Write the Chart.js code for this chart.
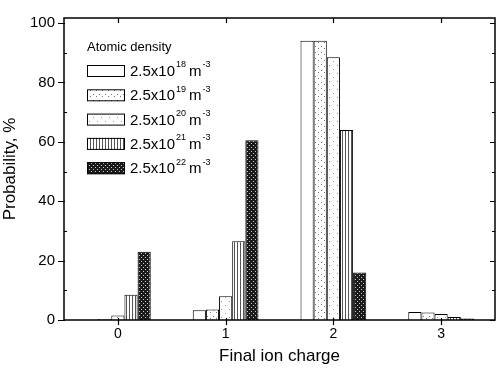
<!DOCTYPE html>
<html>
<head>
<meta charset="utf-8">
<script src="https://cdn.jsdelivr.net/npm/chart.js@4/dist/chart.umd.min.js"></script>
<style>
    html, body { margin: 0; padding: 0; background: #fff; }
    #wrap { width: 496px; height: 371px; }
</style>
</head>
<body>
<div id="wrap"><canvas id="chart" width="496" height="371"></canvas></div>
<script>
// Final ion charge distribution for five atomic densities
const charges = ['0', '1', '2', '3'];
const densityExponents = ['18', '19', '20', '21', '22'];
const dens18 = [0, 3.3, 94, 2.7];
const dens19 = [0.3, 3.5, 94, 2.5];
const dens20 = [1.5, 8, 88.5, 2];
const dens21 = [8.5, 26.5, 64, 1];
const dens22 = [23, 60.5, 16, 0.5];
const yTicks = [0, 20, 40, 60, 80, 100];

const FONT = '"Liberation Sans", Arial, sans-serif';

// fill patterns, one per density
function makePattern(draw, size) {
    const c = document.createElement('canvas');
    c.width = size; c.height = size;
    const g = c.getContext('2d');
    g.fillStyle = '#fff';
    g.fillRect(0, 0, size, size);
    draw(g);
    return g.createPattern(c, 'repeat');
}
const ctx = document.getElementById('chart').getContext('2d');
const fills = [
    '#ffffff',
    makePattern(g => { g.fillStyle = '#777'; g.fillRect(0, 0, 1, 1); g.fillRect(3, 4, 1, 1); }, 6),
    makePattern(g => { g.fillStyle = '#999'; g.fillRect(1, 1, 1, 1); g.fillRect(5, 5, 1, 1); }, 8),
    makePattern(g => { g.fillStyle = '#555'; g.fillRect(0, 0, 1, 4); }, 3),
    makePattern(g => {
        g.fillStyle = '#1a1a1a'; g.fillRect(0, 0, 4, 4);
        g.fillStyle = '#ccc'; g.fillRect(1, 1, 1, 1); g.fillRect(3, 3, 1, 1);
    }, 4)
];
const series = [dens18, dens19, dens20, dens21, dens22];

// frame with ticks: outward on left/bottom, inward on top/right
const frameTicks = {
    id: 'frameTicks',
    afterDatasetsDraw(chart) {
        const { ctx, chartArea: a, scales } = chart;
        ctx.save();
        ctx.strokeStyle = '#000';
        ctx.lineWidth = 1.5;
        ctx.strokeRect(a.left, a.top, a.right - a.left, a.bottom - a.top);
        ctx.lineWidth = 1.2;
        ctx.beginPath();
        yTicks.forEach(v => {
            const y = Math.round(scales.y.getPixelForValue(v)) + 0.5;
            ctx.moveTo(a.left - 6, y); ctx.lineTo(a.left + 1, y);
            ctx.moveTo(a.right, y); ctx.lineTo(a.right - 5, y);
        });
        for (let v = 10; v < 100; v += 20) {
            const y = Math.round(scales.y.getPixelForValue(v)) + 0.5;
            ctx.moveTo(a.left, y); ctx.lineTo(a.left + 3, y);
            ctx.moveTo(a.right, y); ctx.lineTo(a.right - 3, y);
        }
        charges.forEach((c, i) => {
            const x = Math.round(scales.x.getPixelForValue(i)) + 0.5;
            ctx.moveTo(x, a.bottom + 5); ctx.lineTo(x, a.bottom - 2);
            ctx.moveTo(x, a.top); ctx.lineTo(x, a.top + 5);
        });
        ctx.stroke();
        ctx.restore();
    }
};

// text with raised exponents: "2.5x10^e m^-3"
function drawDensity(ctx, exp, x, y) {
    const big = '15px ' + FONT, small = '9px ' + FONT;
    ctx.font = big;
    ctx.fillText('2.5x10', x, y);
    x += ctx.measureText('2.5x10').width + 1;
    ctx.font = small;
    ctx.fillText(exp, x, y - 7);
    x += ctx.measureText(exp).width + 3;
    ctx.font = big;
    ctx.fillText('m', x, y);
    x += ctx.measureText('m').width + 1;
    ctx.font = small;
    ctx.fillText('-3', x, y - 7);
}

// legend drawn inside the plot area
const insideLegend = {
    id: 'insideLegend',
    afterDraw(chart) {
        const { ctx } = chart;
        ctx.save();
        ctx.fillStyle = '#000';
        ctx.textBaseline = 'middle';
        ctx.font = '13px ' + FONT;
        ctx.fillText('Atomic density', 87, 47);
        chart.data.datasets.forEach((ds, i) => {
            const y = 71 + i * 24.3;
            ctx.fillStyle = ds.backgroundColor;
            ctx.fillRect(87, y - 6, 38, 12);
            ctx.strokeStyle = '#000';
            ctx.lineWidth = 1;
            ctx.strokeRect(87.5, y - 5.5, 37, 11);
            ctx.fillStyle = '#000';
            drawDensity(ctx, densityExponents[i], 130, y + 1);
        });
        ctx.restore();
    }
};

new Chart(ctx, {
    type: 'bar',
    data: {
        labels: charges,
        datasets: series.map((d, i) => ({
            label: '2.5x10^' + densityExponents[i] + ' m^-3',
            data: d,
            backgroundColor: fills[i],
            borderColor: '#000',
            borderWidth: 1,
            borderSkipped: 'bottom',
            categoryPercentage: 0.61,
            barPercentage: 1
        }))
    },
    options: {
        responsive: false,
        animation: false,
        layout: { padding: { top: 15, right: 1, left: 0, bottom: 0 } },
        plugins: {
            legend: { display: false },
            tooltip: { enabled: false }
        },
        scales: {
            x: {
                grid: { display: false, drawTicks: false },
                border: { display: false },
                ticks: {
                    color: '#000',
                    padding: 6,
                    font: { family: FONT, size: 14 }
                },
                title: {
                    display: true,
                    text: 'Final ion charge',
                    color: '#000',
                    padding: { top: 0, bottom: 4 },
                    font: { family: FONT, size: 17 }
                },
                afterFit: s => { s.height = 51; }
            },
            y: {
                min: 0,
                max: 101.7,
                grid: { display: false, drawTicks: false },
                border: { display: false },
                afterBuildTicks: s => { s.ticks = yTicks.map(v => ({ value: v })); },
                ticks: {
                    color: '#000',
                    padding: 9,
                    font: { family: FONT, size: 15 }
                },
                title: {
                    display: true,
                    text: 'Probability, %',
                    color: '#000',
                    padding: { top: 0, bottom: 2 },
                    font: { family: FONT, size: 17 }
                },
                afterFit: s => { s.width = 64; }
            }
        }
    },
    plugins: [frameTicks, insideLegend]
});
</script>
</body>
</html>
